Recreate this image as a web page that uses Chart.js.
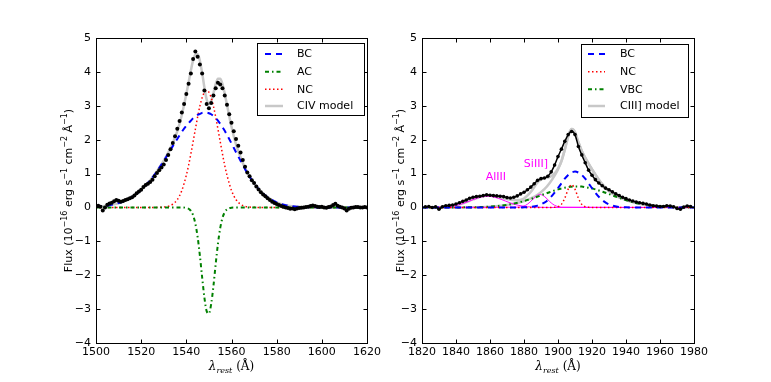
<!DOCTYPE html>
<html><head><meta charset="utf-8">
<script src="https://cdn.jsdelivr.net/npm/chart.js@4.4.0/dist/chart.umd.min.js"></script>
<style>
html,body{margin:0;padding:0;background:#fff;}
#wrap{position:relative;width:771px;height:382px;overflow:hidden;}
canvas{position:absolute;top:0;}
#c1{left:0;width:385px;height:382px;}
#c2{left:385px;width:386px;height:382px;}
</style></head><body>
<div id="wrap"><canvas id="c1" width="385" height="382"></canvas><canvas id="c2" width="386" height="382"></canvas></div>
<script>
// ---------------- C IV panel ----------------
const civWave = [1501,1502,1503,1504,1505,1506,1507,1508,1509,1510,1511,1512,1513,1514,1515,1516,1517,1518,1519,1520,
1521,1522,1523,1524,1525,1526,1527,1528,1529,1530,1531,1532,1533,1534,1535,1536,1537,1538,1539,1540,
1541,1542,1543,1544,1545,1546,1547,1548,1549,1550,1551,1552,1553,1554,1555,1556,1557,1558,1559,1560,
1561,1562,1563,1564,1565,1566,1567,1568,1569,1570,1571,1572,1573,1574,1575,1576,1577,1578,1579,1580,
1581,1582,1583,1584,1585,1586,1587,1588,1589,1590,1591,1592,1593,1594,1595,1596,1597,1598,1599,1600,
1601,1602,1603,1604,1605,1606,1607,1608,1609,1610,1611,1612,1613,1614,1615,1616,1617,1618,1619,1620];
const civFlux = [0.05,0.02,-0.09,0.0,0.08,0.12,0.14,0.18,0.22,0.20,0.17,0.19,0.22,0.24,0.27,0.30,0.35,0.42,0.47,0.52,
0.60,0.66,0.70,0.75,0.82,0.92,1.02,1.10,1.18,1.27,1.40,1.55,1.72,1.90,2.10,2.32,2.55,2.80,3.05,3.35,
3.65,3.95,4.38,4.60,4.45,4.22,3.95,3.45,3.05,2.93,3.08,3.30,3.52,3.68,3.63,3.52,3.30,3.03,2.75,2.50,
2.25,2.02,1.82,1.62,1.40,1.20,1.03,0.92,0.80,0.72,0.62,0.53,0.45,0.38,0.33,0.27,0.22,0.17,0.13,0.10,
0.07,0.04,0.02,0.0,-0.02,-0.04,-0.03,-0.05,-0.03,-0.02,-0.01,0.0,0.01,0.02,0.04,0.06,0.04,0.02,0.01,0.02,
0.0,-0.01,0.01,0.03,0.07,0.11,0.05,0.02,0.0,-0.03,-0.09,-0.04,-0.01,0.0,0.01,0.01,0.0,0.0,0.01,0.0];
const civGrid = [1500,1504,1508,1512,1516,1520,1524,1527,1530,1532,1534,1536,1538,1540,1541,1542,1543,1544,1545,1546,
1547,1548,1549,1550,1551,1552,1553,1554,1555,1556,1557,1558,1560,1562,1564,1566,1568,1570,1573,1576,
1580,1584,1588,1592,1600,1610,1620];
const civBC = [0.021,0.045,0.092,0.175,0.31,0.52,0.80,1.07,1.37,1.59,1.81,2.02,2.23,2.41,2.49,2.56,2.63,2.68,2.73,2.76,
2.79,2.80,2.80,2.78,2.75,2.70,2.64,2.56,2.47,2.37,2.26,2.14,1.89,1.63,1.38,1.13,0.91,0.71,0.47,0.30,
0.148,0.067,0.028,0.010,0.001,0,0];
const civNC = [0,0,0,0,0,0,0,0.002,0.011,0.034,0.095,0.23,0.50,0.95,1.24,1.58,1.94,2.31,2.67,2.99,
3.24,3.40,3.45,3.40,3.24,2.99,2.67,2.31,1.94,1.58,1.24,0.95,0.50,0.23,0.095,0.034,0.011,0.003,0,0,
0,0,0,0,0,0,0];
const civAC = [0,0,0,0,0,0,0,0,0,0,0,0,0,-0.013,-0.038,-0.10,-0.23,-0.48,-0.87,-1.42,
-2.06,-2.66,-3.06,-3.13,-2.85,-2.32,-1.67,-1.07,-0.61,-0.31,-0.14,-0.057,-0.006,0,0,0,0,0,0,0,
0,0,0,0,0,0,0];
const civModel = [0.021,0.045,0.092,0.175,0.31,0.52,0.80,1.07,1.38,1.62,1.91,2.25,2.73,3.35,3.69,4.04,4.34,4.51,4.53,4.33,
3.97,3.54,3.19,3.05,3.14,3.37,3.64,3.80,3.80,3.64,3.36,3.03,2.38,1.86,1.48,1.16,0.92,0.71,0.47,0.30,
0.148,0.067,0.028,0.010,0.001,0,0];

// ---------------- C III] panel ----------------
const ciiiWave = [1822,1824,1826,1828,1830,1832,1834,1836,1838,1840,1842,1844,1846,1848,1850,1852,1854,1856,1858,1860,
1862,1864,1866,1868,1870,1872,1874,1876,1878,1880,1882,1884,1886,1888,1890,1892,1894,1896,1898,1900,
1902,1904,1906,1908,1910,1912,1914,1916,1918,1920,1922,1924,1926,1928,1930,1932,1934,1936,1938,1940,
1942,1944,1946,1948,1950,1952,1954,1956,1958,1960,1962,1964,1966,1968,1970,1972,1974,1976,1978];
const ciiiFlux = [0.02,0.03,0.0,0.02,-0.05,0.02,0.05,0.06,0.07,0.10,0.14,0.18,0.22,0.27,0.30,0.32,0.33,0.35,0.37,0.36,
0.35,0.34,0.33,0.32,0.29,0.28,0.30,0.34,0.40,0.45,0.52,0.60,0.70,0.80,0.85,0.87,0.92,1.05,1.25,1.50,
1.72,1.95,2.15,2.24,2.15,1.80,1.55,1.32,1.10,0.95,0.82,0.72,0.64,0.57,0.52,0.46,0.40,0.35,0.30,0.26,
0.22,0.19,0.16,0.14,0.12,0.10,0.07,0.05,0.04,0.03,0.03,0.05,0.04,0.02,-0.03,-0.05,0.01,0.04,0.03];
const ciiiGrid = [1820,1830,1840,1850,1860,1870,1875,1880,1884,1888,1892,1895,1898,1900,1902,1904,1906,1907,1908,1909,
1910,1912,1914,1916,1918,1921,1924,1927,1930,1935,1940,1945,1950,1955,1960,1970,1980];
const ciiiBC = [0,0,0,0,0,0,0.001,0.004,0.016,0.053,0.143,0.264,0.436,0.572,0.71,0.85,0.96,1.00,1.03,1.05,
1.06,1.03,0.96,0.85,0.71,0.50,0.316,0.178,0.090,0.022,0.004,0,0,0,0,0,0];
const ciiiNC = [0,0,0,0,0,0,0,0,0,0,0,0,0.003,0.019,0.091,0.275,0.54,0.63,0.67,0.63,
0.54,0.275,0.091,0.019,0.003,0,0,0,0,0,0,0,0,0,0,0,0];
const ciiiVBC = [0,0,0.001,0.006,0.024,0.076,0.123,0.187,0.249,0.320,0.395,0.45,0.502,0.533,0.56,0.583,0.60,0.61,0.613,0.617,
0.62,0.62,0.617,0.60,0.583,0.547,0.502,0.45,0.395,0.30,0.217,0.146,0.093,0.055,0.031,0.008,0.002];
const ciiiModel = [0,0,0.001,0.006,0.024,0.076,0.124,0.191,0.265,0.373,0.538,0.714,0.941,1.124,1.361,1.708,2.10,2.24,2.313,2.297,
2.22,1.925,1.668,1.469,1.296,1.047,0.818,0.628,0.485,0.322,0.221,0.146,0.093,0.055,0.031,0.008,0.002];
const totalGrid = [1820,1830,1835,1840,1845,1850,1855,1860,1865,1870,1875,1880,1884,1888,1890,1892,1895,1898,1900,1902,
1904,1906,1907,1908,1909,1910,1912,1914,1916,1918,1921,1924,1927,1930,1935,1940,1945,1950,1955,1960,1970,1980];
const totalModel = [0,0.006,0.021,0.061,0.136,0.236,0.322,0.350,0.311,0.246,0.211,0.265,0.458,0.737,0.827,0.864,0.894,1.005,1.149,1.369,
1.708,2.10,2.24,2.313,2.297,2.22,1.925,1.668,1.469,1.296,1.047,0.818,0.628,0.485,0.322,0.221,0.146,0.093,0.055,0.031,0.008,0.002];
const alWave = [1820,1830,1835,1840,1844,1848,1852,1856,1858.5,1861,1865,1869,1873,1877,1882,1887,1895,1980];
const alFlux = [0,0.006,0.021,0.060,0.115,0.19,0.267,0.32,0.33,0.32,0.267,0.19,0.115,0.060,0.021,0.006,0,0];
const siWave = [1820,1877,1880,1882,1884,1886,1888,1889.5,1891,1893,1895,1897,1899,1902,1980];
const siFlux = [0,0.008,0.041,0.095,0.18,0.28,0.36,0.38,0.36,0.28,0.18,0.095,0.041,0.008,0];

const xTicksCIV = [1500,1520,1540,1560,1580,1600,1620];
const xTicksCIII = [1820,1840,1860,1880,1900,1920,1940,1960,1980];
const yTicks = [-4,-3,-2,-1,0,1,2,3,4,5];

const legendCIV = ['BC','AC','NC','CIV model'];
const legendCIII = ['BC','NC','VBC','CIII] model'];
const notesCIII = [{text:'AlIII', x:1863.5, y:0.89},{text:'SiIII]', x:1887, y:1.28}];

// ---------------- drawing ----------------
const SANS = 'DejaVu Sans';
const SERIF = 'DejaVu Serif';
const pts = (xs, ys) => xs.map((x, i) => ({x: x, y: ys[i]}));
const minus = v => String(v).replace('-', '\u2212');

function drawRuns(ctx, runs, cx, cy) {
  let w = 0;
  runs.forEach(r => { ctx.font = r.f; w += ctx.measureText(r.t).width; });
  let x = cx - w / 2;
  runs.forEach(r => {
    ctx.font = r.f;
    ctx.fillText(r.t, x, cy + (r.dy || 0));
    x += ctx.measureText(r.t).width;
  });
}

const decorPlugin = {
  id: 'decor',
  afterDraw(chart, args, o) {
    const ctx = chart.ctx, a = chart.chartArea;
    const xs = chart.scales.x, ys = chart.scales.y;
    ctx.save();
    (o.notes || []).forEach(n => {
      ctx.fillStyle = '#ff00ff';
      ctx.font = '11px ' + SANS;
      ctx.textAlign = 'center'; ctx.textBaseline = 'middle';
      ctx.fillText(n.text, xs.getPixelForValue(n.x), ys.getPixelForValue(n.y));
    });
    ctx.strokeStyle = '#000'; ctx.lineWidth = 1; ctx.setLineDash([]);
    const L = Math.round(a.left) + 0.5, R = Math.round(a.right) + 0.5, T = Math.round(a.top) + 0.5, B = Math.round(a.bottom) + 0.5;
    ctx.strokeRect(L, T, R - L, B - T);
    ctx.beginPath();
    o.xticks.forEach(v => {
      const p = Math.round(xs.getPixelForValue(v)) + 0.5;
      ctx.moveTo(p, B); ctx.lineTo(p, B - 4);
      ctx.moveTo(p, T); ctx.lineTo(p, T + 4);
    });
    o.yticks.forEach(v => {
      const p = Math.round(ys.getPixelForValue(v)) + 0.5;
      ctx.moveTo(L, p); ctx.lineTo(L + 4, p);
      ctx.moveTo(R, p); ctx.lineTo(R - 4, p);
    });
    ctx.stroke();
    const lg = o.legend;
    ctx.fillStyle = '#fff';
    ctx.fillRect(lg.box[0], lg.box[1], lg.box[2] - lg.box[0], lg.box[3] - lg.box[1]);
    ctx.strokeStyle = '#000'; ctx.lineWidth = 1;
    ctx.strokeRect(lg.box[0] + 0.5, lg.box[1] + 0.5, lg.box[2] - lg.box[0], lg.box[3] - lg.box[1]);
    lg.items.forEach((di, k) => {
      const ds = chart.data.datasets[di];
      const y = lg.rows[k];
      ctx.strokeStyle = ds.borderColor; ctx.lineWidth = ds.borderWidth;
      ctx.setLineDash(ds.borderDash || []);
      ctx.beginPath(); ctx.moveTo(lg.sample[0], y); ctx.lineTo(lg.sample[1], y); ctx.stroke();
      ctx.setLineDash([]);
      ctx.fillStyle = '#000'; ctx.font = '11px ' + SANS;
      ctx.textAlign = 'left'; ctx.textBaseline = 'middle';
      ctx.fillText(lg.labels[k], lg.textX, y + 0.5);
    });
    ctx.fillStyle = '#000'; ctx.textAlign = 'left'; ctx.textBaseline = 'alphabetic';
    const cx = (a.left + a.right) / 2;
    drawRuns(ctx, [
      {t: '\u03bb', f: 'italic 12px ' + SERIF},
      {t: 'rest', f: 'italic 8px ' + SERIF, dy: 3},
      {t: ' (\u00c5)', f: '12px ' + SERIF}
    ], cx, o.xTitleY);
    ctx.save();
    ctx.translate(o.yTitleX, (a.top + a.bottom) / 2);
    ctx.rotate(-Math.PI / 2);
    const big = '11px ' + SANS, sm = '8px ' + SANS;
    drawRuns(ctx, [
      {t: 'Flux (10', f: big}, {t: '\u221216', f: sm, dy: -5},
      {t: ' erg s', f: big}, {t: '\u22121', f: sm, dy: -5},
      {t: ' cm', f: big}, {t: '\u22122', f: sm, dy: -5},
      {t: ' \u00c5', f: big}, {t: '\u22121', f: sm, dy: -5},
      {t: ')', f: big}
    ], 0, 4);
    ctx.restore();
    ctx.restore();
  }
};

function makePanel(id, datasets, xmin, xmax, xstep, pad, yWidth, decor) {
  return new Chart(document.getElementById(id), {
    type: 'scatter',
    data: {datasets: datasets},
    options: {
      responsive: false, animation: false, devicePixelRatio: 1,
      layout: {padding: pad},
      plugins: {legend: {display: false}, tooltip: {enabled: false}, decor: decor},
      elements: {line: {cubicInterpolationMode: 'monotone'}},
      scales: {
        x: {type: 'linear', min: xmin, max: xmax,
          ticks: {stepSize: xstep, color: '#000', font: {family: SANS, size: 11}, padding: 3, maxRotation: 0, autoSkip: false, callback: v => minus(v)},
          grid: {display: false, drawTicks: false}, border: {display: false},
          afterFit: s => { s.height = 20; }},
        y: {type: 'linear', min: -4, max: 5,
          ticks: {stepSize: 1, color: '#000', font: {family: SANS, size: 11}, padding: 5, callback: v => minus(v)},
          grid: {display: false, drawTicks: false}, border: {display: false},
          afterFit: s => { s.width = yWidth; }}
      }
    },
    plugins: [decorPlugin]
  });
}

const line = (xs, ys, color, width, dash) => ({data: pts(xs, ys), showLine: true, borderColor: color, borderWidth: width, borderDash: dash, pointRadius: 0, fill: false});
const dots = (xs, ys, r, lw) => ({data: pts(xs, ys), showLine: lw > 0, borderColor: '#000', borderWidth: lw, pointRadius: r, pointBackgroundColor: '#000', pointBorderColor: '#000', pointBorderWidth: 0});

makePanel('c1', [
  dots(civWave, civFlux, 2, 0),
  line(civGrid, civBC, '#0000ff', 2, [6, 5]),
  line(civGrid, civAC, '#008000', 2, [4, 3, 1.5, 3]),
  line(civGrid, civNC, '#ff0000', 1.5, [1.5, 2.5]),
  line(civGrid, civModel, '#c8c8c8', 2.5, [])
], 1500, 1620, 20, {left: 56, right: 18, top: 38, bottom: 19}, 40, {
  xticks: xTicksCIV, yticks: yTicks,
  legend: {box: [257, 43, 364, 115], sample: [265, 283], textX: 297, rows: [54, 71.7, 89.3, 106], items: [1, 2, 3, 4], labels: legendCIV},
  notes: [], xTitleY: 370, yTitleX: 68
});

makePanel('c2', [
  dots(ciiiWave, ciiiFlux, 1.8, 1.5),
  line(ciiiGrid, ciiiBC, '#0000ff', 2, [6, 5]),
  line(ciiiGrid, ciiiNC, '#ff0000', 1.5, [1.5, 2.5]),
  line(ciiiGrid, ciiiVBC, '#008000', 2, [4, 3, 1.5, 3]),
  line(alWave, alFlux, '#ff00ff', 1, []),
  line(siWave, siFlux, '#ff00ff', 1, []),
  line(ciiiGrid, ciiiModel, '#c8c8c8', 2.5, []),
  line(totalGrid, totalModel, '#c8c8c8', 2.5, [])
], 1820, 1980, 20, {left: 7, right: 77, top: 38, bottom: 19}, 30, {
  xticks: xTicksCIII, yticks: yTicks,
  legend: {box: [196, 44, 303, 117], sample: [203, 220], textX: 235, rows: [54, 71.7, 89.3, 106], items: [1, 2, 3, 6], labels: legendCIII},
  notes: notesCIII, xTitleY: 370, yTitleX: 15
});
</script>
</body></html>
